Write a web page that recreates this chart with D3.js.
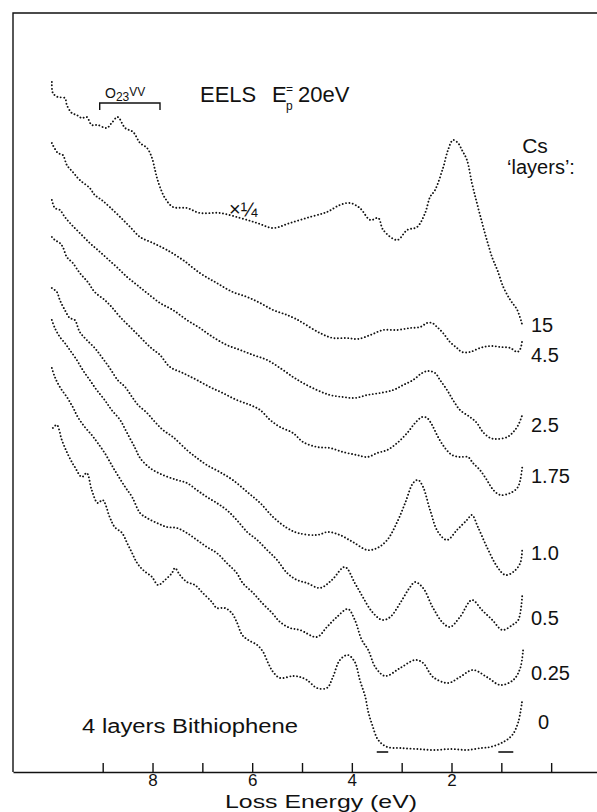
<!DOCTYPE html>
<html>
<head>
<meta charset="utf-8">
<script src="https://cdn.jsdelivr.net/npm/d3@7"></script>
<style>
  body { margin: 0; background: #fff; }
  svg { display: block; }
  text { font-family: "Liberation Sans", Arial, sans-serif; fill: #111; }
  .spec { fill: none; stroke: #111; stroke-width: 1.9; stroke-linecap: round; stroke-dasharray: 0.01 3.4; }
  .frame { stroke: #111; stroke-width: 1.4; fill: none; }
</style>
</head>
<body>
<svg id="chart" width="597" height="812"></svg>
<script>
// EELS spectra, Ep = 20 eV, Cs on 4 layers bithiophene
// each series: [loss energy (eV), intensity (arb. units, offset per spectrum)]

const cs15 = [[10.02,690],[10.0,679],[9.9,675],[9.76,674],[9.72,667],[9.62,659],[9.52,657],[9.42,654],[9.32,655],
  [9.22,647],[9.1,647],[8.92,644],[8.82,649],[8.7,655],[8.55,644],[8.39,640],[8.25,629],[8.11,624],[8.01,614],
  [7.95,602],[7.91,594],[7.85,585],[7.75,574],[7.59,565],[7.31,564],[7.05,559],[6.65,559],[6.24,554],[5.9,549],
  [5.58,544],[5.24,549],[4.84,555],[4.5,560],[4.24,567],[4.04,569],[3.84,564],[3.63,552],[3.47,554],[3.37,542],
  [3.09,532],[2.89,542],[2.69,545],[2.53,559],[2.43,575],[2.33,582],[2.17,604],[2.07,622],[1.97,632],[1.87,629],
  [1.79,622],[1.69,612],[1.59,589],[1.49,569],[1.39,550],[1.29,532],[1.18,514],[1.08,502],[0.96,485],[0.82,472],
  [0.68,462],[0.58,447]];

const cs45 = [[10.02,629],[9.9,619],[9.8,617],[9.72,607],[9.6,600],[9.46,592],[9.26,584],[9.16,577],[9.02,572],
  [8.86,565],[8.65,555],[8.45,545],[8.25,535],[7.99,529],[7.71,522],[7.39,512],[7.05,499],[6.71,489],[6.39,480],
  [6.1,475],[5.84,469],[5.58,462],[5.3,457],[5.08,452],[4.98,449],[4.64,439],[4.38,434],[4.1,434],[3.88,433],
  [3.63,437],[3.37,442],[3.09,442],[2.83,444],[2.63,445],[2.49,449],[2.39,449],[2.29,445],[2.17,439],[2.03,430],
  [1.89,424],[1.79,420],[1.63,420],[1.43,424],[1.22,426],[1.02,425],[0.82,424],[0.68,420],[0.62,423],[0.58,432]];

const cs25 = [[10.02,572],[9.96,564],[9.86,562],[9.76,555],[9.62,547],[9.46,539],[9.26,529],[9.1,522],[8.92,514],
  [8.72,505],[8.51,495],[8.31,487],[8.11,479],[7.85,469],[7.59,462],[7.31,452],[7.05,444],[6.79,435],[6.51,427],
  [6.24,422],[5.98,417],[5.7,412],[5.44,404],[5.18,395],[4.98,389],[4.7,382],[4.44,377],[4.18,375],[3.94,374],
  [3.69,377],[3.43,379],[3.17,382],[2.97,387],[2.77,392],[2.59,399],[2.47,401],[2.33,399],[2.23,392],[2.09,382],
  [1.97,372],[1.83,362],[1.63,355],[1.49,349],[1.37,340],[1.22,334],[1.08,333],[0.88,335],[0.76,340],[0.66,347],
  [0.58,357]];

const cs175 = [[10.02,535],[9.96,532],[9.86,529],[9.8,525],[9.72,515],[9.6,509],[9.46,499],[9.3,490],[9.16,480],
  [8.96,472],[8.82,465],[8.65,455],[8.45,445],[8.25,435],[8.05,425],[7.85,417],[7.65,405],[7.39,399],[7.11,392],
  [6.85,385],[6.59,379],[6.31,372],[6.04,367],[5.84,362],[5.64,352],[5.44,345],[5.18,339],[4.98,330],[4.7,325],
  [4.44,324],[4.18,320],[3.9,317],[3.69,315],[3.49,319],[3.29,322],[3.09,329],[2.89,339],[2.73,349],[2.59,355],
  [2.49,354],[2.39,347],[2.27,335],[2.13,324],[1.99,317],[1.83,315],[1.67,315],[1.57,309],[1.43,302],[1.29,292],
  [1.16,282],[1.02,277],[0.82,279],[0.68,284],[0.62,292],[0.58,305]];

const cs10 = [[10.02,484],[9.92,480],[9.86,472],[9.76,462],[9.66,454],[9.56,452],[9.46,440],[9.32,432],[9.16,424],
  [9.02,415],[8.86,404],[8.7,392],[8.55,385],[8.41,375],[8.29,367],[8.11,359],[7.95,350],[7.79,342],[7.59,335],
  [7.31,322],[7.11,314],[6.91,307],[6.65,300],[6.39,292],[6.1,280],[5.84,269],[5.58,255],[5.3,244],[5.08,239],
  [4.7,237],[4.48,240],[4.24,237],[3.98,230],[3.69,222],[3.49,224],[3.29,232],[3.09,250],[2.93,269],[2.77,289],
  [2.67,292],[2.57,285],[2.43,262],[2.27,240],[2.09,232],[1.89,242],[1.69,252],[1.59,257],[1.47,245],[1.29,225],
  [1.08,205],[0.92,197],[0.76,200],[0.62,209],[0.58,224]];

const cs05 = [[10.02,452],[9.96,444],[9.86,435],[9.76,429],[9.66,422],[9.52,412],[9.4,402],[9.26,392],[9.12,382],
  [8.96,372],[8.82,362],[8.65,352],[8.51,339],[8.35,324],[8.25,314],[8.05,304],[7.79,297],[7.51,292],[7.31,289],
  [7.11,282],[6.91,275],[6.71,269],[6.51,262],[6.31,252],[6.1,240],[5.9,232],[5.7,222],[5.5,212],[5.3,199],
  [5.1,192],[4.9,189],[4.64,184],[4.4,192],[4.14,205],[3.94,189],[3.78,175],[3.59,160],[3.39,152],[3.23,155],
  [3.03,169],[2.83,185],[2.73,190],[2.57,184],[2.37,164],[2.17,149],[2.03,145],[1.83,155],[1.59,172],[1.39,162],
  [1.18,152],[0.98,142],[0.78,147],[0.66,152],[0.58,177]];

const cs025 = [[10.02,404],[9.96,395],[9.86,385],[9.72,375],[9.6,365],[9.5,355],[9.36,345],[9.22,337],[9.1,329],
  [8.96,319],[8.82,307],[8.7,297],[8.55,285],[8.41,275],[8.25,259],[8.11,254],[7.91,249],[7.71,245],[7.51,244],
  [7.31,239],[7.11,232],[6.91,225],[6.71,219],[6.51,209],[6.31,199],[6.19,189],[5.98,179],[5.8,169],[5.6,159],
  [5.44,150],[5.24,144],[5.04,142],[4.7,135],[4.5,145],[4.3,155],[4.08,163],[3.94,152],[3.8,132],[3.67,122],
  [3.53,105],[3.33,96],[3.03,104],[2.73,112],[2.57,109],[2.37,95],[2.07,89],[1.83,95],[1.57,102],[1.29,95],
  [1.02,87],[0.76,92],[0.62,104],[0.56,124]];

const cs0 = [[10.0,344],[9.92,347],[9.82,332],[9.72,320],[9.62,310],[9.56,305],[9.42,295],[9.32,299],[9.22,282],
  [9.1,269],[9.0,272],[8.86,255],[8.76,245],[8.61,239],[8.51,229],[8.41,219],[8.31,209],[8.19,202],[8.01,195],
  [7.89,187],[7.75,192],[7.61,199],[7.55,204],[7.45,197],[7.31,190],[7.15,187],[6.99,179],[6.81,170],[6.71,164],
  [6.55,164],[6.41,159],[6.31,150],[6.2,137],[6.08,132],[5.9,127],[5.78,120],[5.68,109],[5.58,100],[5.44,94],
  [5.18,96],[5.04,95],[4.9,92],[4.7,84],[4.5,84],[4.38,95],[4.24,112],[4.08,117],[3.94,110],[3.84,92],[3.73,75],
  [3.67,60],[3.59,47],[3.47,32],[3.29,25],[3.03,24],[2.7,23],[2.37,22],[2.0,23],[1.69,22],[1.4,24],[1.22,25],
  [0.96,30],[0.78,37],[0.66,50],[0.58,72]];

// Cs coverage labels and the intensity level each one sits at
const layerLabels = ["15", "4.5", "2.5", "1.75", "1.0", "0.5", "0.25", "0"];
const labelLevels = [447, 417, 347, 296, 219, 154, 99, 50];
const spectra = [cs15, cs45, cs25, cs175, cs10, cs05, cs025, cs0];

// zero-line markers under the clean bithiophene spectrum (eV ranges)
const baseMarks = [[3.5, 3.27], [1.06, 0.76]];
const baseLevel = 20;

// O23VV bracket (eV range)
const o23Range = [9.06, 7.85];

const tickValues = [9, 8, 7, 6, 5, 4, 3, 2, 1, 0];
const tickLabels = ["", "8", "", "6", "", "4", "", "2", "", ""];

const svg = d3.select('#chart');

const x = d3.scaleLinear().domain([10.8, -0.92]).range([13, 597]);
const y = d3.scaleLinear().domain([0, 760]).range([772, 12]);

// frame: left and top rules
svg.append('path')
  .attr('class', 'frame')
  .attr('d', `M${x.range()[1]},${y(759)}H${x.range()[0]}V${y(0)}`);

// axis
const axis = d3.axisBottom(x)
  .tickValues(tickValues)
  .tickSize(-9)
  .tickSizeOuter(0)
  .tickPadding(2)
  .tickFormat((d, i) => tickLabels[i]);

const gx = svg.append('g')
  .attr('transform', `translate(0,${y(0)})`)
  .call(axis);
gx.select('.domain').attr('stroke', '#111').attr('stroke-width', 1.5);
gx.selectAll('.tick line').attr('stroke', '#111').attr('stroke-width', 1.4);
gx.selectAll('.tick text')
  .style('font-family', '"Liberation Sans", Arial, sans-serif')
  .style('font-size', '17px')
  .attr('fill', '#111');

svg.append('text')
  .attr('x', 225).attr('y', 808)
  .attr('textLength', 192)
  .attr('lengthAdjust', 'spacingAndGlyphs')
  .style('font-size', '19px')
  .text('Loss Energy (eV)');

// spectra as dotted traces
const line = d3.line()
  .x(d => x(d[0]))
  .y(d => y(d[1]))
  .curve(d3.curveCatmullRom.alpha(0.5));

svg.selectAll('.spec')
  .data(spectra)
  .enter()
  .append('path')
    .attr('class', 'spec')
    .attr('d', line);

// coverage labels
svg.selectAll('.lbl')
  .data(layerLabels)
  .enter()
  .append('text')
    .attr('class', 'lbl')
    .attr('x', d => d === '0' ? 538 : 531)
    .attr('y', (d, i) => y(labelLevels[i]))
    .attr('dy', '0.36em')
    .style('font-size', '20px')
    .text(d => d);

svg.append('text')
  .attr('x', 535).attr('y', 153)
  .attr('text-anchor', 'middle')
  .style('font-size', '21px')
  .text('Cs');
svg.append('text')
  .attr('x', 541).attr('y', 174)
  .attr('text-anchor', 'middle')
  .style('font-size', '20px')
  .text('\u2018layers\u2019:');

// baseline markers
svg.selectAll('.bm')
  .data(baseMarks)
  .enter()
  .append('line')
    .attr('x1', d => x(d[0]))
    .attr('x2', d => x(d[1]))
    .attr('y1', y(baseLevel)).attr('y2', y(baseLevel))
    .attr('stroke', '#111')
    .attr('stroke-width', 1.6);

// O23VV bracket + label
const by = 103;
svg.append('path')
  .attr('class', 'frame')
  .attr('d', `M${x(o23Range[0])},${by + 7}V${by}H${x(o23Range[1])}V${by + 7}`);
const o = svg.append('text').attr('x', 105).attr('y', 98).style('font-size', '14px');
o.append('tspan').text('O');
o.append('tspan').attr('dy', 3).style('font-size', '12px').text('23');
o.append('tspan').attr('dy', -5).style('font-size', '12px').text('VV');

// title: EELS  E(p)= 20eV
svg.append('text').attr('x', 200).attr('y', 102).style('font-size', '22px').text('EELS');
svg.append('text').attr('x', 272).attr('y', 102).style('font-size', '22px').text('E');
svg.append('text').attr('x', 286).attr('y', 93).style('font-size', '12px').text('=');
svg.append('text').attr('x', 286).attr('y', 110).style('font-size', '12px').text('p');
svg.append('text').attr('x', 298).attr('y', 102).style('font-size', '22px').text('20eV');

// x1/4 scaling note on the top spectrum
svg.append('text').attr('x', 229).attr('y', 216).style('font-size', '20px').text('\u00d7\u00bc');

// substrate note
svg.append('text')
  .attr('x', 82).attr('y', 733)
  .attr('textLength', 216)
  .attr('lengthAdjust', 'spacingAndGlyphs')
  .style('font-size', '20px')
  .text('4 layers  Bithiophene');
</script>
</body>
</html>
